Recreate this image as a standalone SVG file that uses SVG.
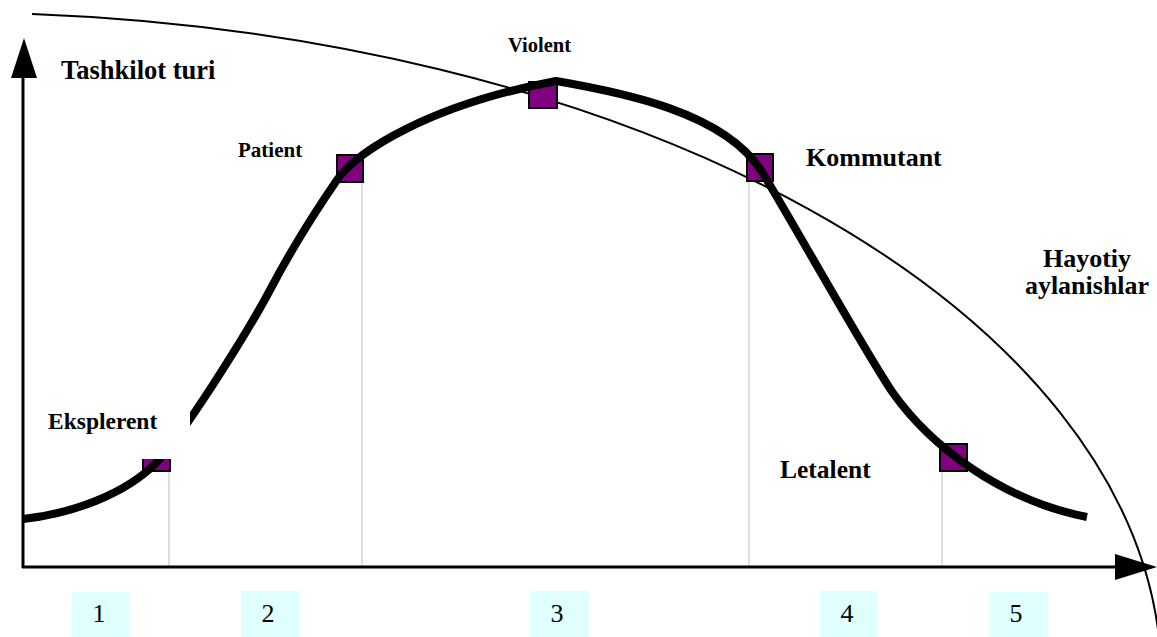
<svg xmlns="http://www.w3.org/2000/svg" width="1157" height="637" viewBox="0 0 1157 637">
<style>
.lbl{font-family:"Liberation Serif","Times New Roman",serif;font-weight:bold;fill:#000}
.num{font-family:"Liberation Serif","Times New Roman",serif;font-size:26px;fill:#000;text-anchor:middle}
.box{fill:#e0ffff}
.sq{fill:#800080;stroke:#000;stroke-width:2}
.guide{stroke:#c8c8c8;stroke-width:1.2;fill:none}
.axis{stroke:#000;stroke-width:3;fill:none}
.arc{stroke:#000;stroke-width:2;fill:none}
.curve{stroke:#000;stroke-width:8;fill:none;stroke-linejoin:round}
</style>
<rect width="1157" height="637" fill="#fff"/>
<g id="connectors">
  <path class="arc" d="M32,14 A1212,667.5 0 0 1 1159,637"/>
  <line class="guide" x1="169" y1="471" x2="169" y2="566"/>
  <line class="guide" x1="362" y1="182" x2="362" y2="566"/>
  <line class="guide" x1="749" y1="181" x2="749" y2="566"/>
  <line class="guide" x1="942" y1="471" x2="942" y2="566"/>
  <line class="axis" x1="23" y1="568" x2="23" y2="76"/>
  <polygon points="11,78 24,38 37,78" fill="#000"/>
  <line class="axis" x1="22" y1="567" x2="1118" y2="567"/>
  <polygon points="1115,554 1157,567 1115,580" fill="#000"/>
</g>
<g id="squares">
  <rect id="sq-eksplerent" class="sq" x="143" y="445" width="27" height="26"/>
  <rect id="sq-patient" class="sq" x="337" y="155" width="26" height="27"/>
  <rect id="sq-violent" class="sq" x="529" y="82" width="28" height="26"/>
  <rect id="sq-kommutant" class="sq" x="747" y="154" width="26" height="27"/>
  <rect id="sq-letalent" class="sq" x="940" y="444" width="27" height="27"/>
</g>
<g id="lifecycle-curve">
  <path class="curve" d="M23,519 C70,514 125,495 157,462 C182,436 245,337 270,290 C290,252 317,209 337,180 C357,151 430,105 556,81 C620,92 725,112 762,172 C787,212 865,352 893,393 C930,445 1000,500 1087,517"/>
</g>
<g id="node-eksplerent">
  <rect x="26" y="396" width="164" height="63" fill="#fff"/>
  <text class="lbl" x="48" y="429" font-size="23.5">Eksplerent</text>
</g>
<g id="node-tashkilot">
  <text class="lbl" x="61" y="79" font-size="26.5">Tashkilot turi</text>
</g>
<g id="node-patient">
  <text class="lbl" x="238" y="157" font-size="21">Patient</text>
</g>
<g id="node-violent">
  <text class="lbl" x="508" y="52" font-size="20.5">Violent</text>
</g>
<g id="node-kommutant">
  <text class="lbl" x="806" y="166" font-size="26">Kommutant</text>
</g>
<g id="node-letalent">
  <text class="lbl" x="780" y="478" font-size="25.5">Letalent</text>
</g>
<g id="node-hayotiy">
  <text class="lbl" font-size="26" text-anchor="middle"><tspan x="1087" y="267">Hayotiy</tspan><tspan x="1087" y="294">aylanishlar</tspan></text>
</g>
<g id="stage-1"><rect class="box" x="72" y="592" width="58" height="45"/><text class="num" x="99" y="622">1</text></g>
<g id="stage-2"><rect class="box" x="241" y="591" width="58" height="46"/><text class="num" x="268" y="622">2</text></g>
<g id="stage-3"><rect class="box" x="530" y="591" width="59" height="46"/><text class="num" x="557" y="622">3</text></g>
<g id="stage-4"><rect class="box" x="820" y="591" width="58" height="46"/><text class="num" x="847" y="622">4</text></g>
<g id="stage-5"><rect class="box" x="989" y="592" width="59" height="45"/><text class="num" x="1016" y="622">5</text></g>
</svg>
